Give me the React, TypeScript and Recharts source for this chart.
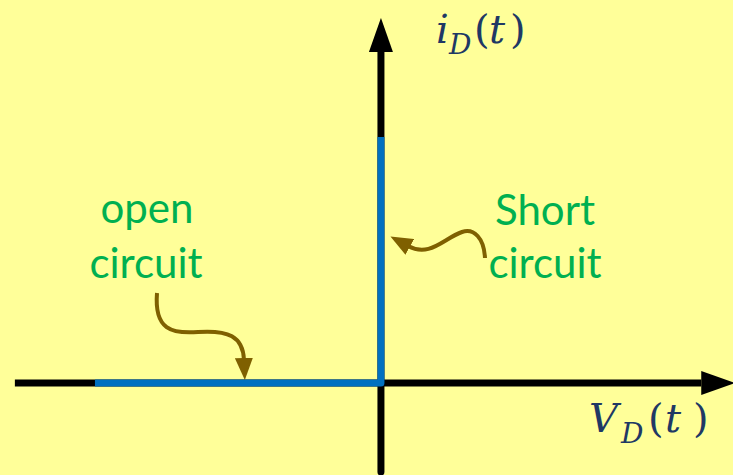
import { LineChart, Line, XAxis, YAxis, ReferenceLine, Customized } from 'recharts';

// ideal diode i-v characteristic: open circuit for V<0, short circuit at V=0
const voltage = [-1, 0, 0];
const current = [0, 0, 1];

const xDomain = [-1.332, 1.231];
const yDomain = [-0.374, 1.557];

const chartData = voltage.map((v, i) => ({ v, i: current[i] }));

const GREEN = '#00B050';
const BROWN = '#7F6000';
const NAVY = '#203864';
const BLUE = '#0070C0';

function Annotations() {
  const labelStyle = { fontFamily: 'Lato, "Open Sans", sans-serif', fontSize: 42, fill: GREEN };
  const mathStyle = { fontFamily: '"DejaVu Serif", serif', fill: NAVY };
  return (
    <g>
      <defs>
        <marker id="axisArrow" markerUnits="userSpaceOnUse" markerWidth={34} markerHeight={24}
          viewBox="0 0 34 24" refX={0} refY={12} orient="auto">
          <path d="M0,0 L34,12 L0,24 Z" fill="#000" />
        </marker>
        <marker id="noteArrow" markerUnits="userSpaceOnUse" markerWidth={22} markerHeight={18}
          viewBox="0 0 22 18" refX={2} refY={9} orient="auto">
          <path d="M0,0 L22,9 L0,18 Z" fill={BROWN} />
        </marker>
      </defs>

      <text textAnchor="middle" style={labelStyle}>
        <tspan x={147} y={223}>open</tspan>
        <tspan x={146} y={278}>circuit</tspan>
      </text>
      <text textAnchor="middle" style={labelStyle}>
        <tspan x={545} y={225}>Short</tspan>
        <tspan x={545} y={278}>circuit</tspan>
      </text>

      <path d="M157,293 C154,330 172,334 198,332 C228,330 243,336 244,360"
        fill="none" stroke={BROWN} strokeWidth={4} markerEnd="url(#noteArrow)" />
      <path d="M485,258 C484,238 474,228 462,232 C444,238 430,258 408,246"
        fill="none" stroke={BROWN} strokeWidth={4} markerEnd="url(#noteArrow)" />

      <text style={mathStyle}>
        <tspan x={436} y={43} fontSize={40} fontStyle="italic">i</tspan>
        <tspan x={449} y={54} fontSize={28} fontStyle="italic">D</tspan>
        <tspan x={474} y={43} fontSize={40}>(</tspan>
        <tspan x={489} y={43} fontSize={40} fontStyle="italic">t</tspan>
        <tspan x={510} y={43} fontSize={40}>)</tspan>
      </text>
      <text style={mathStyle}>
        <tspan x={589} y={432} fontSize={40} fontStyle="italic">V</tspan>
        <tspan x={621} y={443} fontSize={28} fontStyle="italic">D</tspan>
        <tspan x={648} y={432} fontSize={40}>(</tspan>
        <tspan x={665} y={432} fontSize={40} fontStyle="italic">t</tspan>
        <tspan x={693} y={432} fontSize={40}>)</tspan>
      </text>
    </g>
  );
}

export default function App() {
  return (
    <div style={{ position: 'absolute', left: 0, top: 0, width: 733, height: 475, background: '#FFFF99' }}>
      <LineChart width={733} height={475} data={chartData} margin={{ top: 0, right: 0, bottom: 0, left: 0 }}>
        <XAxis type="number" dataKey="v" domain={xDomain} allowDataOverflow hide />
        <YAxis type="number" domain={yDomain} allowDataOverflow hide />
        <Customized component={<Annotations />} />
        <ReferenceLine
          segment={[{ x: -1.28, y: 0 }, { x: 1.12, y: 0 }]}
          stroke="#000" strokeWidth={7} markerEnd="url(#axisArrow)"
        />
        <ReferenceLine
          segment={[{ x: 0, y: -0.362 }, { x: 0, y: 1.346 }]}
          stroke="#000" strokeWidth={7} strokeLinecap="round" markerEnd="url(#axisArrow)"
        />
        <Line
          dataKey="i"
          type="linear"
          stroke={BLUE}
          strokeWidth={7}
          strokeLinejoin="round"
          strokeLinecap="butt"
          dot={false}
          activeDot={false}
          isAnimationActive={false}
        />
      </LineChart>
    </div>
  );
}
